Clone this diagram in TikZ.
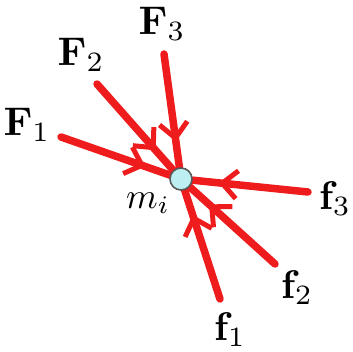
\documentclass[tikz,border=0pt]{standalone}
\usepackage{graphicx}
\usetikzlibrary{arrows.meta,decorations.markings}
\definecolor{fred}{HTML}{EE1C1C}
\definecolor{pcyan}{HTML}{BDEFF2}
\tikzset{
  force/.style={draw=fred, line width=7.5pt, line cap=round,
    postaction={decorate},
    decoration={markings, mark=at position -26pt with {\arrow[fred]{Straight Barb[length=15pt,width=28pt,line width=5pt]}}}},
  lab/.style={inner sep=0pt}
}
\begin{document}
\begin{tikzpicture}[x=1pt,y=-1pt]
\useasboundingbox (0,0) rectangle (353,352);
\node[circle, minimum size=23pt, inner sep=0pt] (m) at (181,179) {};
\coordinate (s1) at (61,137);
\coordinate (s2) at (97,84);
\coordinate (s3) at (164,54);
\coordinate (t3) at (308,192);
\coordinate (t2) at (275,264);
\coordinate (t1) at (220,299);
\draw[force] (s1) -- (m);
\draw[force] (s2) -- (m);
\draw[force] (s3) -- (m);
\draw[force] (t3) -- (m);
\draw[force] (t2) -- (m);
\draw[force] (t1) -- (m);
\fill[pcyan, draw=black!65, line width=1.6pt] (m.center) circle (11pt);
\node[lab] (lF1) at (27,125) {\scalebox{4.0}{$\mathbf{F}_1$}};
\node[lab] (lF2) at (81,55) {\scalebox{4.0}{$\mathbf{F}_2$}};
\node[lab] (lF3) at (162,24) {\scalebox{4.0}{$\mathbf{F}_3$}};
\node[lab] (lf3) at (335,199) {\scalebox{4.0}{$\mathbf{f}_3$}};
\node[lab] (lf2) at (297,288) {\scalebox{4.0}{$\mathbf{f}_2$}};
\node[lab] (lf1) at (230,330) {\scalebox{4.0}{$\mathbf{f}_1$}};
\node[lab] (lm) at (148,203) {\scalebox{3.6}{$m_i$}};
\end{tikzpicture}
\end{document}
